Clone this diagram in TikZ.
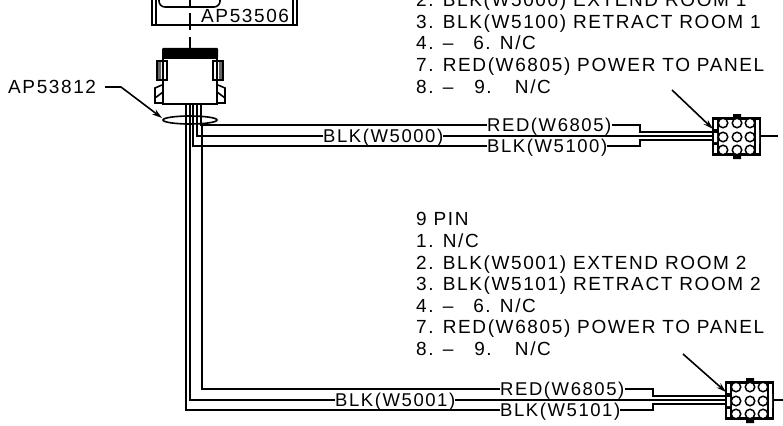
\documentclass[tikz,border=0pt]{standalone}
\usepackage{fontspec}
\setmainfont{Liberation Sans}
\newfontfamily\cadfont[LetterSpace=8.5]{Liberation Sans}
\usetikzlibrary{arrows.meta}
\tikzset{
  x=1pt,y=-1pt,
  wire/.style={line width=1.6pt,black},
  label/.style={font=\cadfont\fontsize{19}{19}\selectfont,anchor=base west,inner sep=0pt,text=black},
  wlabel/.style={font=\cadfont\fontsize{18.5}{19}\selectfont,anchor=west,inner sep=0pt,text height=13pt,text depth=0pt,text=black},
  part/.style={draw=black,line width=1.6pt},
  lead/.style={line width=1.6pt,-{Stealth[length=10pt,width=6pt]}},
  pin/.style={circle,draw=black,fill=white,line width=1.5pt,minimum size=9.5pt,inner sep=0pt},
}
\newcommand{\plug}[2]{%
  \begin{scope}[shift={(#1,#2)}]
    \draw[part] (0,0) rectangle (47,37);
    \draw[black,line width=2.2pt] (-1,1) -- (48,1) (-1,36) -- (48,36);
    \fill (20,-4) rectangle (28,1) (20,36) rectangle (28,41);
    \draw[part,line width=1.2pt] (0,1) rectangle (5,36) (42,1) rectangle (47,36);
    \fill (0,11) rectangle (5,27);
    \fill[white] (1,15) rectangle (4,24) (43,12) rectangle (46,26);
    \foreach \py in {5,19,32}\foreach \px in {10,24,37}
      \node[pin] at (\px,\py) {};
  \end{scope}}
\begin{document}
\begin{tikzpicture}
\useasboundingbox (0,0) rectangle (783,425);
\clip (0,0) rectangle (783,425);
% top part
\draw[part] (152,-5) -- (152,25) -- (297,25) -- (297,-5);
\draw[part] (156,-5) -- (156,25) (293,-5) -- (293,25);
\draw[part,rounded corners=6pt] (159,-8) -- (159,7) -- (220,7) -- (220,-8);
\draw[line width=1.4pt] (190,-2) -- (190,7) (190,13) -- (190,30) (190,37) -- (190,50);
\node[label] (ap1) at (201,22.5) {AP53506};
% connector
\fill[rounded corners=1pt] (162,48) rectangle (218,58);
\draw[part] (163,58) rectangle (217,104);
\fill[black!60] (157,61) rectangle (161,79) (219,61) rectangle (223,79);
\draw[part] (157,61) rectangle (167,80) (213,61) rectangle (223,80);
\draw[part] (162,85) -- (155,88) -- (155,103) -- (163,103) (155,98) -- (163,92);
\draw[part] (218,85) -- (225,88) -- (225,103) -- (217,103) (225,98) -- (217,92);
% leader
\node[label] (ap2) at (8,94) {AP53812};
\coordinate (ll) at (105,87);
\coordinate (lm) at (121,87);
\coordinate (le) at (162,118);
\draw[lead] (ll) -- (lm) -- (le);
\draw[part] (190,120) ellipse (27 and 4);
% wire labels
\node[wlabel] (l1) at (323,136) {BLK(W5000)};
\node[wlabel] (l2) at (487,125) {RED(W6805)};
\node[wlabel] (l3) at (487,146) {BLK(W5100)};
\node[wlabel] (l4) at (335,400) {BLK(W5001)};
\node[wlabel] (l5) at (500,389) {RED(W6805)};
\node[wlabel] (l6) at (500,410) {BLK(W5101)};
% plugs
\coordinate (p1) at (713,129);
\coordinate (p2) at (726,392);
\plug{713}{118}
\plug{726}{382}
% wires group 1
\draw[wire] (201,104) -- (201,125) -- (l2.west);
\draw[wire] (197,104) -- (197,136) -- (l1.west);
\draw[wire] (193,104) -- (193,146) -- (l3.west);
\draw[wire] (l2.east) -- ++(2,0) -| (640,132) -- (713,132);
\draw[wire] (l1.east) -- ++(2,0) -- (713,136);
\draw[wire] (l3.east) -- ++(2,0) -| (640,140) -- (713,140);
\draw[wire] (760,136) -- (778,136);
% wires group 2
\draw[wire] (202,125) -- (202,389) -- (l5.west);
\draw[wire] (190,104) -- (190,400) -- (l4.west);
\draw[wire] (186,104) -- (186,410) -- (l6.west);
\draw[wire] (l5.east) -- ++(2,0) -| (653,396) -- (726,396);
\draw[wire] (l4.east) -- ++(2,0) -- (726,400);
\draw[wire] (l6.east) -- ++(2,0) -| (653,404) -- (726,404);
\draw[wire] (773,400) -- (783,400);
% pin arrows
\coordinate (a1) at (672,90);
\coordinate (a2) at (683,354);
\draw[lead] (a1) -- (p1);
\draw[lead] (a2) -- (p2);
% pin lists
\foreach \yy/\txt in {7/{2. BLK(W5000) EXTEND ROOM 1},29/{3. BLK(W5100) RETRACT ROOM 1},50/{4. –\hspace{13pt} 6. N/C},72/{7. RED(W6805) POWER TO PANEL},93/{8. –\hspace{14pt} 9.\hspace{14pt} N/C}}
  \node[label] at (416,\yy) {\txt};
\foreach \yy/\txt in {225/{9 PIN},247/{1. N/C},269/{2. BLK(W5001) EXTEND ROOM 2},290/{3. BLK(W5101) RETRACT ROOM 2},312/{4. –\hspace{13pt} 6. N/C},333/{7. RED(W6805) POWER TO PANEL},355/{8. –\hspace{14pt} 9.\hspace{14pt} N/C}}
  \node[label] at (416,\yy) {\txt};
\end{tikzpicture}
\end{document}
